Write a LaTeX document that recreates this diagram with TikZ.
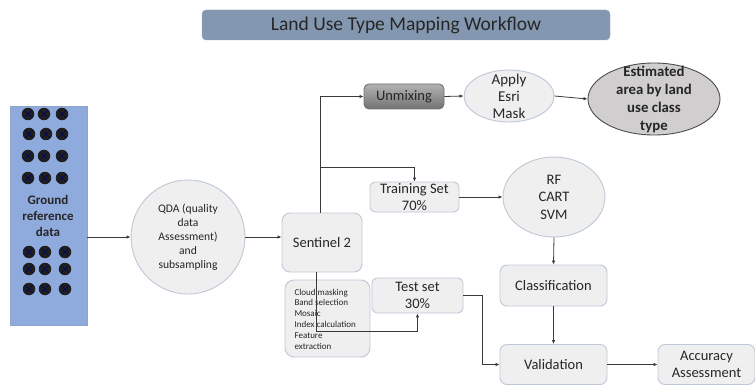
\documentclass[tikz,border=0pt]{standalone}
\usepackage{fontspec}
\setmainfont{Carlito}
\usetikzlibrary{shapes.geometric,arrows.meta,calc}
\definecolor{boxfill}{HTML}{EFEFEF}
\definecolor{boxline}{HTML}{BFC8D6}
\definecolor{titlefill}{HTML}{8497B0}
\definecolor{groundfill}{HTML}{8FAADC}
\definecolor{estfill}{HTML}{D0CECE}
\definecolor{linecol}{HTML}{3A3A3A}
\definecolor{txt}{HTML}{262626}
\begin{document}
\begin{tikzpicture}[x=1pt,y=-1pt,
 every node/.style={font=\fontsize{14.5}{17.5}\selectfont, text=txt},
 box/.style={draw=boxline, fill=boxfill, rounded corners=5pt, line width=0.9pt, inner sep=0pt, align=center},
 oval/.style={ellipse, draw=boxline, fill=boxfill, line width=0.9pt, inner sep=0pt},
 arr/.style={draw=linecol, line width=0.8pt, -{Latex[length=4pt,width=3.5pt]}},
 ln/.style={draw=linecol, line width=0.8pt},
 dotc/.style={circle, fill=black!88, minimum size=12.5pt, inner sep=0pt},
]
\useasboundingbox (0,0) rectangle (755,385);
\fill[white] (0,0) rectangle (755,385);

% title
\node[fill=titlefill, draw=titlefill!85!white, rounded corners=4pt, minimum width=408pt, minimum height=30pt, inner sep=0pt, font=\fontsize{19.5}{22}\selectfont] (title) at (406,25) {Land Use Type Mapping Workflow};

% ground reference data
\node[fill=groundfill, draw=groundfill!85!gray, minimum width=77pt, minimum height=219pt, inner sep=0pt] (ground) at (48.5,215.5) {};
\node[align=center, font=\bfseries\fontsize{13}{16}\selectfont] (gtext) at (48,216) {Ground\\reference\\data};
\foreach \x/\y [count=\i] in {28/114,44/114,62/114, 29/134,46/134,62/134, 28/156,44/156,62/156, 28/178,45/178,62/178,
  29/252,45/252,65/252, 29/269,45/269,65/269, 29/289,45/289,65/289}{
  \node[dotc] (d\i) at (\x,\y) {};
  \draw[blue!40!black, line width=0.4pt] (\x-3.5,\y-3.5) -- (\x+3.5,\y+3.5) (\x-3.5,\y+3.5) -- (\x+3.5,\y-3.5);
}

% QDA
\node[circle, draw=boxline, fill=boxfill, line width=0.9pt, minimum size=114pt, inner sep=0pt, align=center, font=\fontsize{11.6}{14}\selectfont] (qda) at (188,237) {QDA (quality\\data\\Assessment)\\and\\subsampling};

% Sentinel 2
\node[box, rounded corners=8pt, minimum width=80pt, minimum height=59pt] (sen) at (322,242.5) {Sentinel 2};

% processing
\node[box, rounded corners=9pt, minimum width=85pt, minimum height=77pt] (proc) at (327.5,318.5) {};
\node[align=left, font=\fontsize{9}{10.8}\selectfont, anchor=west] (ptext) at (291,319) {Cloud masking\\Band selection\\Mosaic\\Index calculation\\Feature\\extraction};

% Unmixing
\node[box, draw=black!55, top color=black!30, bottom color=black!55, minimum width=80pt, minimum height=25pt] (unm) at (404,96.5) {Unmixing};

% Apply Esri Mask
\node[oval, minimum width=90pt, minimum height=52pt, label={[align=center, font=\fontsize{15}{17}\selectfont, text=txt]center:Apply\\Esri\\Mask}] (apply) at (509,96) {};

% Estimated
\node[ellipse, draw=black!70, fill=estfill, line width=0.9pt, inner sep=0pt, minimum width=132pt, minimum height=72pt, label={[align=center, font=\bfseries\fontsize{14.8}{18}\selectfont, text=txt]center:Estimated\\area by land\\use class\\type}] (est) at (654,99) {};

% Training
\node[box, minimum width=89pt, minimum height=30pt] (train) at (414.5,197) {Training Set\\70\%};

% RF
\node[oval, minimum width=102pt, minimum height=80pt, label={[align=center, font=\fontsize{14.5}{17.5}\selectfont, text=txt]center:RF\\CART\\SVM}] (rf) at (554,197) {};

% Classification
\node[box, rounded corners=7pt, minimum width=107pt, minimum height=41pt] (cls) at (553.5,285.5) {Classification};

% Test set
\node[box, minimum width=91pt, minimum height=35pt] (test) at (417.5,295.5) {Test set\\30\%};

% Validation
\node[box, rounded corners=7pt, minimum width=107pt, minimum height=40pt] (val) at (553.5,364.5) {Validation};

% Accuracy
\node[box, rounded corners=7pt, minimum width=97pt, minimum height=40pt] (acc) at (706.5,364.5) {Accuracy\\Assessment};

% connectors
\draw[arr] (ground.east |- qda.west) -- (qda.west);
\draw[arr] (qda.east) -- (qda.east -| sen.west);
\coordinate (sn) at ($(sen.north)+(-2,0)$);
\coordinate (ss) at ($(sen.south)+(-6,0)$);
\draw[arr] (sn) |- (unm.west);
\coordinate (j1) at (sn |- 0,167);
\draw[arr] (j1) -| (train.north);
\draw[arr] (ss) |- ($(test.south)+(0,18)$) -- (test.south);
\draw[arr] (unm.east) -- (apply.west);
\draw[arr] (apply.east) -- (est.west);
\draw[arr] (train.east) -- (train.east -| rf.west);
\draw[arr] (rf.south) -- (cls.north);
\draw[arr] (cls.south) -- (val.north);
\draw[arr] (test.east) -- ++(19,0) |- (val.west);
\draw[arr] (val.east) -- (acc.west);
\end{tikzpicture}
\end{document}
